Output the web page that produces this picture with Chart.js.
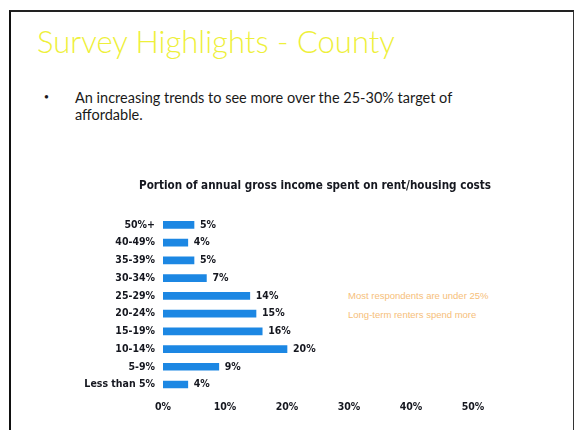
<!DOCTYPE html>
<html>
<head>
<meta charset="utf-8">
<script src="https://cdn.jsdelivr.net/npm/chart.js@4"></script>
<style>
  html, body { margin: 0; padding: 0; background: #fff; }
  body { width: 576px; height: 430px; position: relative; overflow: hidden; }
  .frame { position: absolute; left: 9px; top: 10px; width: 562px; height: 430px;
           border-left: 2px solid #111; border-top: 2px solid #222; border-right: 1px solid #333; }
  .slide-title { position: absolute; left: 37px; top: 22px; font-family: Lato, sans-serif;
                 font-weight: 300; font-size: 31px; color: #eef03a; white-space: nowrap; }
  .bullet { position: absolute; left: 44px; top: 90px; font-size: 14px; color: #1a1a1a; }
  .body-text { position: absolute; left: 75px; top: 89px; width: 420px; font-family: Lato, sans-serif;
               font-size: 14.5px; line-height: 17px; color: #1a1a1a; }
  .note { position: absolute; left: 348px; font-family: "Liberation Sans Narrow", sans-serif;
          font-size: 9.5px; color: #f5b463; white-space: nowrap; opacity: 0.85; }
  #chartWrap { position: absolute; left: 70px; top: 170px; width: 490px; height: 256px; }
</style>
</head>
<body>
<div class="frame"></div>
<div class="slide-title">Survey Highlights - County</div>
<div class="bullet">•</div>
<div class="body-text">An increasing trends to see more over the 25-30% target of affordable.</div>
<div class="note" style="top:290px">Most respondents are under 25%</div>
<div class="note" style="top:309px">Long-term renters spend more</div>
<div id="chartWrap"><canvas id="incomeChart"></canvas></div>

<script>
// Share of gross income going to rent/housing, by bracket
const chartHeading = 'Portion of annual gross income spent on rent/housing costs';
const brackets = ['50%+', '40-49%', '35-39%', '30-34%', '25-29%', '20-24%', '15-19%', '10-14%', '5-9%', 'Less than 5%'];
const shares = [5, 4, 5, 7, 14, 15, 16, 20, 9, 4];
const axisTicks = [0, 10, 20, 30, 40, 50];

const labelFont = { family: '"DejaVu Sans Condensed", sans-serif', weight: 'bold', size: 10.5 };
const inkColor = '#15171f';

// heading centred on the whole canvas rather than on the padded layout box
const headingPlugin = {
  id: 'heading',
  afterDraw(chart) {
    const { ctx } = chart;
    ctx.save();
    ctx.font = 'bold 11.6px "DejaVu Sans Condensed", sans-serif';
    ctx.fillStyle = inkColor;
    ctx.textAlign = 'center';
    ctx.textBaseline = 'middle';
    ctx.fillText(chartHeading, chart.width / 2, 16);
    ctx.restore();
  }
};

// writes the percentage just past the end of each bar
const valueLabels = {
  id: 'valueLabels',
  afterDatasetsDraw(chart) {
    const { ctx } = chart;
    const meta = chart.getDatasetMeta(0);
    ctx.save();
    ctx.font = 'bold 10.5px "DejaVu Sans Condensed", sans-serif';
    ctx.fillStyle = inkColor;
    ctx.textBaseline = 'middle';
    meta.data.forEach((bar, i) => {
      ctx.fillText(shares[i] + '%', bar.x + 6, bar.y);
    });
    ctx.restore();
  }
};

const ctx = document.getElementById('incomeChart').getContext('2d');
new Chart(ctx, {
  type: 'bar',
  data: {
    labels: brackets,
    datasets: [{
      data: shares,
      backgroundColor: '#1c87e3',
      barThickness: 7,
    }]
  },
  options: {
    indexAxis: 'y',
    responsive: true,
    maintainAspectRatio: false,
    animation: false,
    layout: { padding: { left: 0, right: 87, top: 46, bottom: 4 } },
    plugins: {
      legend: { display: false },
      tooltip: { enabled: false },
      title: { display: false },
    },
    scales: {
      x: {
        min: 0,
        max: 50,
        afterBuildTicks(scale) {
          scale.ticks = axisTicks.map(v => ({ value: v }));
        },
        ticks: {
          padding: 8,
          color: inkColor,
          font: labelFont,
          callback: v => v + '%',
        },
        grid: { display: false, drawTicks: false },
        border: { display: false },
      },
      y: {
        afterFit(scale) { scale.width = 93; },
        ticks: { padding: 8, color: inkColor, font: labelFont },
        grid: { display: false, drawTicks: false },
        border: { display: false },
      }
    }
  },
  plugins: [valueLabels, headingPlugin]
});
</script>
</body>
</html>
